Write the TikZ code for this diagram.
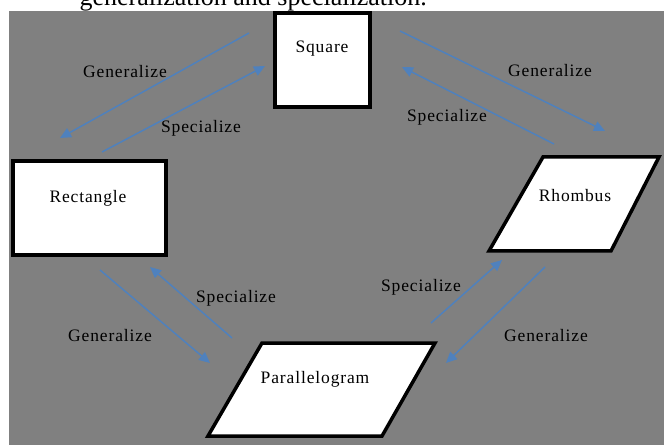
\documentclass[tikz,border=0pt]{standalone}
\usepackage{fontspec}
\setmainfont{Liberation Serif}
\usetikzlibrary{arrows.meta}
\definecolor{bggray}{RGB}{128,128,128}
\definecolor{arrowblue}{RGB}{79,129,189}
\tikzset{
  shapebox/.style={draw=black, line width=3.5pt, fill=white, line join=miter},
  lbl/.style={inner sep=0pt, font=\fontsize{17.5}{20}\selectfont\addfontfeature{LetterSpace=5}},
  conn/.style={draw=arrowblue, line width=1.5pt, -{Triangle[length=11pt,width=10pt]}},
}
\begin{document}
\begin{tikzpicture}[x=1pt,y=-1pt]
\useasboundingbox (0,0) rectangle (664,446);
\fill[white] (0,0) rectangle (664,446);
\fill[bggray] (9,11.5) rectangle (664,445);
% caption text cut off at the top
\node[anchor=base east, inner sep=0pt, font=\fontsize{26}{30}\selectfont] (caption) at (427,5.5) {generalization and specialization.};
% shapes
\draw[shapebox] (275,13) rectangle (370,107);
\draw[shapebox] (13,161) rectangle (166,255);
\draw[shapebox] (543,157) -- (659,157) -- (611,251) -- (489,251) -- cycle;
\draw[shapebox] (262,343) -- (435,343) -- (382,436) -- (208,436) -- cycle;
% labels of shapes
\node[lbl] (square) at (322,49) {Square};
\node[lbl] (rectangle) at (88,198) {Rectangle};
\node[lbl] (rhombus) at (575,196) {Rhombus};
\node[lbl] (parallelogram) at (315,379) {Parallelogram};
% arrow end points
\coordinate (a1s) at (249,33);  \coordinate (a1e) at (60,138);
\coordinate (a2s) at (102,152); \coordinate (a2e) at (265,66);
\coordinate (a3s) at (400,31);  \coordinate (a3e) at (605,131);
\coordinate (a4s) at (554,144); \coordinate (a4e) at (402,67);
\coordinate (a5s) at (100,270); \coordinate (a5e) at (210,363);
\coordinate (a6s) at (232,338); \coordinate (a6e) at (150,267);
\coordinate (a7s) at (431,323); \coordinate (a7e) at (502,260);
\coordinate (a8s) at (545,267); \coordinate (a8e) at (446,363);
\draw[conn] (a1s) -- (a1e);
\draw[conn] (a2s) -- (a2e);
\draw[conn] (a3s) -- (a3e);
\draw[conn] (a4s) -- (a4e);
\draw[conn] (a5s) -- (a5e);
\draw[conn] (a6s) -- (a6e);
\draw[conn] (a7s) -- (a7e);
\draw[conn] (a8s) -- (a8e);
% arrow labels
\node[lbl] (g1) at (125,72) {Generalize};
\node[lbl] (s1) at (201,128) {Specialize};
\node[lbl] (g2) at (550,71) {Generalize};
\node[lbl] (s2) at (447,117) {Specialize};
\node[lbl] (s3) at (236,298) {Specialize};
\node[lbl] (g3) at (110,336) {Generalize};
\node[lbl] (s4) at (421,287) {Specialize};
\node[lbl] (g4) at (546,336) {Generalize};
\end{tikzpicture}
\end{document}
